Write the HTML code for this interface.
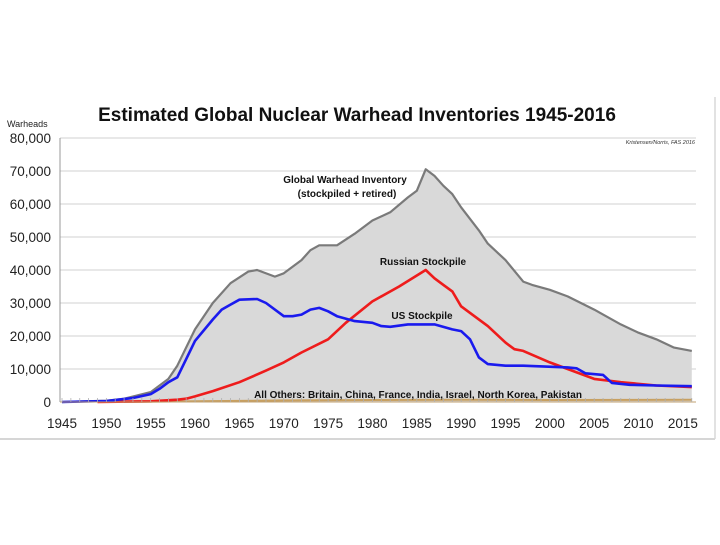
<!DOCTYPE html>
<html><head><meta charset="utf-8"><style>
body{margin:0;background:#fff;}
svg text{font-family:"Liberation Sans",sans-serif;}
</style></head><body>
<svg width="720" height="540" viewBox="0 0 720 540">
<line x1="0" y1="439" x2="715" y2="439" stroke="#c8c8c8" stroke-width="1.5"/>
<line x1="715" y1="97" x2="715" y2="439" stroke="#d8d8d8" stroke-width="1.5"/>
<text x="357" y="121" text-anchor="middle" font-size="19" font-weight="bold" fill="#111">Estimated Global Nuclear Warhead Inventories 1945-2016</text>
<text x="7" y="127" font-size="9" fill="#222">Warheads</text>
<text x="695" y="144" text-anchor="end" font-size="5.5" font-style="italic" fill="#333">Kristensen/Norris, FAS 2016</text>
<g id="grid"></g>
<g id="series"></g>
<g id="axes"></g>
<text x="345" y="183" text-anchor="middle" font-size="10" font-weight="bold" fill="#111">Global Warhead Inventory</text>
<text x="347" y="197" text-anchor="middle" font-size="10" font-weight="bold" fill="#111">(stockpiled + retired)</text>
<text x="423" y="265" text-anchor="middle" font-size="10" font-weight="bold" fill="#111">Russian Stockpile</text>
<text x="422" y="319" text-anchor="middle" font-size="10" font-weight="bold" fill="#111">US Stockpile</text>
<text x="418" y="398" text-anchor="middle" font-size="10" font-weight="bold" fill="#111">All Others: Britain, China, France, India, Israel, North Korea, Pakistan</text>
</svg>
<script>
const globalYears=[1945,1950,1952,1955,1957,1958,1960,1962,1964,1966,1967,1969,1970,1972,1973,1974,1976,1978,1980,1982,1984,1985,1986,1987,1988,1989,1990,1992,1993,1995,1997,1998,2000,2002,2005,2006,2008,2010,2012,2014,2016];
const globalVals=[0,400,1000,3000,7000,11000,22000,30000,36000,39500,40000,38000,39000,43000,46000,47500,47500,51000,55000,57500,62000,64000,70500,68500,65500,63000,59000,52000,48000,43000,36500,35500,34000,32000,28000,26500,23500,21000,19000,16500,15500];
const usYears=[1945,1950,1953,1955,1956,1957,1958,1959,1960,1962,1963,1964,1965,1967,1968,1970,1971,1972,1973,1974,1975,1976,1978,1980,1981,1982,1984,1987,1989,1990,1991,1992,1993,1995,1997,2002,2003,2004,2006,2007,2009,2012,2016];
const usVals=[0,300,1200,2400,4000,6000,7500,13000,18500,25000,28000,29500,31000,31200,30000,26000,26000,26500,28000,28500,27500,26000,24500,24000,23000,22800,23500,23500,22000,21500,19000,13500,11500,11000,11000,10500,10200,8700,8200,5800,5200,5000,4800];
const ruYears=[1949,1955,1958,1959,1960,1962,1965,1968,1970,1972,1975,1977,1980,1983,1986,1987,1988,1989,1990,1993,1995,1996,1997,2000,2002,2005,2008,2012,2016];
const ruVals=[0,200,700,1000,1700,3300,6000,9500,12000,15000,19000,24000,30500,35000,40000,37500,35500,33500,29000,23000,18000,16000,15500,12000,10000,7000,6000,5000,4500];
const otherYears=[1952,1960,1970,1980,1990,2000,2016];
const otherVals=[0,200,500,600,700,600,700];
const yTicks=[0,10000,20000,30000,40000,50000,60000,70000,80000];
const yTickLabels=["0","10,000","20,000","30,000","40,000","50,000","60,000","70,000","80,000"];
const xTickLabels=[1945,1950,1955,1960,1965,1970,1975,1980,1985,1990,1995,2000,2005,2010,2015];
const NS='http://www.w3.org/2000/svg';
const X=y=>62+(y-1945)*8.87;
const Y=v=>402-v*33/10000;
const PL=60,PR=696;
function mk(t,a,p){const e=document.createElementNS(NS,t);for(const k in a)e.setAttribute(k,a[k]);p.appendChild(e);return e;}
const grid=document.getElementById('grid'),ser=document.getElementById('series'),ax=document.getElementById('axes');
yTicks.forEach((v,i)=>{
 if(i>0){const l=mk('line',{x1:PL,x2:PR,y1:Y(v),y2:Y(v),stroke:'#d0d0d0','stroke-width':1},grid);
 
 }
 const t=mk('text',{x:51,y:Y(v)+5,'text-anchor':'end','font-size':13.5,fill:'#222'},ax);t.textContent=yTickLabels[i];
 
 
});
function pts(ys,vs){return ys.map((y,i)=>X(y).toFixed(1)+','+Y(vs[i]).toFixed(1));}
const gp=pts(globalYears,globalVals);
const area=mk('polygon',{points:X(globalYears[0])+','+Y(0)+' '+gp.join(' ')+' '+X(globalYears[globalYears.length-1])+','+Y(0),fill:'#d9d9d9'},ser);


const gl=mk('polyline',{points:gp.join(' '),fill:'none',stroke:'#7a7a7a','stroke-width':2.2,'stroke-linejoin':'round'},ser);


const ol=mk('polyline',{points:pts(otherYears,otherVals).join(' '),fill:'none',stroke:'#c8a060','stroke-width':2},ser);


const rl=mk('polyline',{points:pts(ruYears,ruVals).join(' '),fill:'none',stroke:'#ee1c1c','stroke-width':2.6,'stroke-linejoin':'round'},ser);


const ul=mk('polyline',{points:pts(usYears,usVals).join(' '),fill:'none',stroke:'#1a1aee','stroke-width':2.6,'stroke-linejoin':'round'},ser);


const yl=mk('line',{x1:PL,x2:PL,y1:Y(0),y2:Y(80000),stroke:'#999','stroke-width':1},ax);


const xl=mk('line',{x1:PL,x2:PR,y1:Y(0),y2:Y(0),stroke:'#c0a070','stroke-width':1},ax);


for(let yr=1945;yr<=2016;yr++){const tk=mk('line',{x1:X(yr),x2:X(yr),y1:Y(0),y2:Y(0)-4,stroke:'#b0b0b0','stroke-width':0.8},ax);
 
 }
xTickLabels.forEach(yr=>{const t=mk('text',{x:X(yr),y:428,'text-anchor':'middle','font-size':13.5,fill:'#222'},ax);t.textContent=yr;
 
 });
</script>
</body></html>
